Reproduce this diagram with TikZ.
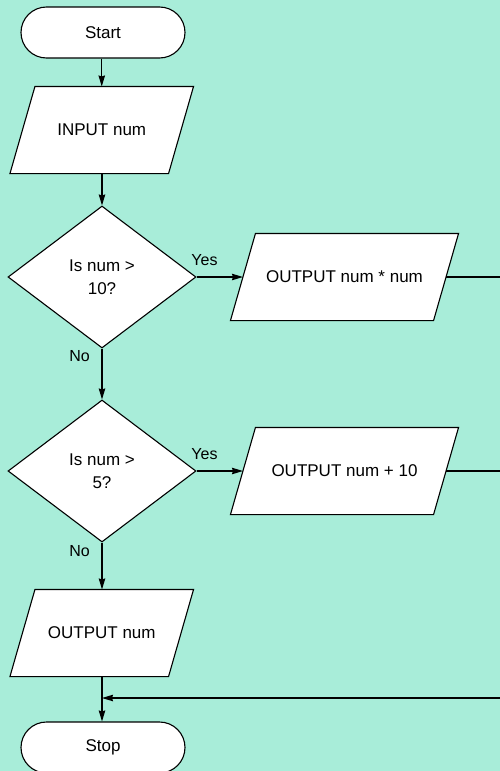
\documentclass[tikz,border=0pt]{standalone}
\usepackage{fontspec}
\setmainfont{Liberation Sans}
\usetikzlibrary{shapes.geometric,arrows.meta,backgrounds}
\definecolor{mint}{RGB}{168,237,217}
\begin{document}
\begin{tikzpicture}[x=1pt,y=-1pt,
  line width=1.1pt,
  txt/.style={font=\fontsize{17}{23}\selectfont, align=center},
  lbl/.style={font=\fontsize{16}{19}\selectfont, inner sep=0pt},
  term/.style={txt, draw, fill=white, rectangle, rounded corners=25.5pt, minimum width=164pt, minimum height=51pt},
  dec/.style={txt, draw, fill=white, diamond, minimum width=188pt, minimum height=142pt, inner sep=0pt},
  iobox/.style={txt, inner sep=0pt, minimum height=86pt},
  arr/.style={-{Stealth[length=11pt,width=6.5pt,inset=1pt]}},
  para/.style={draw, fill=white, line width=1.1pt}
]
\useasboundingbox (0,0) rectangle (500,771);
\begin{scope}[on background layer]
  \fill[mint] (0,0) rectangle (500,771);
\end{scope}

\node[term] (start) at (103,32.5) {Start};
\node[iobox, minimum width=157.5pt] (in) at (101.75,130) {INPUT num};
\node[dec] (d1) at (102,277) {Is num >\\10?};
\node[iobox, minimum width=202pt] (o1) at (344.5,277) {OUTPUT num * num};
\node[dec] (d2) at (102,471) {Is num >\\5?};
\node[iobox, minimum width=202pt] (o2) at (344.5,471) {OUTPUT num + 10};
\node[iobox, minimum width=157.5pt] (o3) at (101.75,633) {OUTPUT num};
\node[term] (stop) at (103,747.5) {Stop};

\begin{scope}[on background layer]
  \foreach \n in {in,o1,o2,o3}{
    \draw[para] ([xshift=12.5pt]\n.north west) -- ([xshift=12.5pt]\n.north east)
      -- ([xshift=-12.5pt]\n.south east) -- ([xshift=-12.5pt]\n.south west) -- cycle;
  }
\end{scope}

\coordinate (r1) at (500,277);
\coordinate (r2) at (500,471);
\coordinate (r3) at (500,698);
\coordinate (j) at (102,698);

\draw[arr] (start.south -| in.north) -- (in.north);
\draw[arr] (in.south -| d1.north) -- (d1.north);
\draw[arr] (d1.east) -- (o1.west);
\draw[arr] (d1.south) -- (d2.north);
\draw[arr] (d2.east) -- (o2.west);
\draw[arr] (d2.south) -- (d2.south |- o3.north);
\draw[arr] (o3.south -| d2.south) -- (stop.north -| d2.south);
\draw (o1.east) -- (r1);
\draw (o2.east) -- (r2);
\draw[arr] (r3) -- (j);

\node[lbl] (y1) at (204.5,260) {Yes};
\node[lbl] (n1) at (79.5,356) {No};
\node[lbl] (y2) at (204.5,454) {Yes};
\node[lbl] (n2) at (79.5,551) {No};
\end{tikzpicture}
\end{document}
